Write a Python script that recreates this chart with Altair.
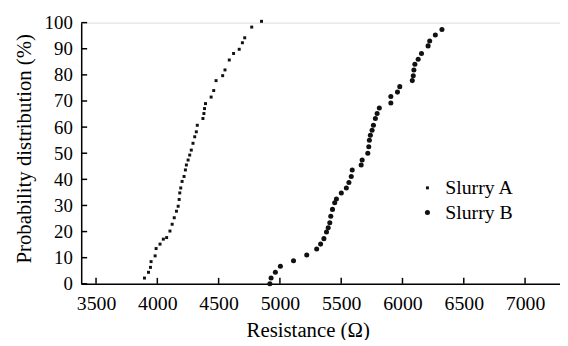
import altair as alt
import pandas as pd

# Slurry A: resistance (ohm) and cumulative probability (%)
a_res = [3895, 3928, 3944, 3949, 3982, 3990, 4022, 4049, 4076, 4103, 4121, 4138,
         4156, 4170, 4178, 4183, 4191, 4202, 4218, 4229, 4237, 4251, 4264, 4277,
         4291, 4305, 4318, 4326, 4372, 4380, 4385, 4393, 4439, 4460, 4479, 4533,
         4552, 4587, 4622, 4668, 4694, 4713, 4770, 4850]
a_prob = [2.2, 4.4, 6.3, 8.5, 10.7, 13.5, 15.2, 17.1, 17.7, 20.2, 22.8, 25.3,
          27.8, 29.7, 32.3, 34.8, 36.7, 39.2, 41.1, 43.6, 45.5, 47.4, 49.3, 51.2,
          53.8, 56.3, 58.2, 60.7, 63.3, 65.2, 67.1, 69.0, 71.5, 74.0, 77.8, 79.7,
          81.9, 85.7, 88.2, 89.8, 92.3, 94.2, 98.3, 100.5]

# Slurry B
b_res = [4918, 4928, 4963, 5004, 5111, 5219, 5300, 5332, 5359, 5380, 5394, 5407,
         5415, 5429, 5447, 5461, 5501, 5542, 5563, 5582, 5590, 5663, 5671, 5717,
         5725, 5730, 5738, 5752, 5763, 5779, 5793, 5811, 5905, 5905, 5959, 5978,
         6080, 6088, 6093, 6101, 6128, 6155, 6209, 6222, 6268, 6322]
b_prob = [0.0, 2.2, 4.4, 6.7, 8.8, 11.0, 13.3, 15.2, 17.3, 19.8, 21.5, 23.4,
          25.9, 28.5, 31.0, 32.5, 34.8, 36.7, 38.8, 41.1, 43.6, 45.5, 47.4, 50.0,
          52.5, 55.0, 56.9, 58.8, 60.7, 63.3, 65.2, 67.3, 69.2, 71.7, 73.4, 75.5,
          77.8, 79.7, 81.9, 84.1, 86.0, 88.2, 91.1, 93.0, 95.3, 97.4]

series_names = ["Slurry A", "Slurry B"]
x_ticks = [3500, 4000, 4500, 5000, 5500, 6000, 6500, 7000]
y_ticks = [0, 10, 20, 30, 40, 50, 60, 70, 80, 90, 100]

df = pd.concat([
    pd.DataFrame({"res": a_res, "prob": a_prob, "series": series_names[0]}),
    pd.DataFrame({"res": b_res, "prob": b_prob, "series": series_names[1]}),
], ignore_index=True)

FONT = "Liberation Serif"
W, H = 484, 264
X0, X1 = 3379, 7285
xscale = alt.Scale(domain=[X0, X1], nice=False, zero=False)
yscale = alt.Scale(domain=[0, 100], nice=False, zero=False)
TICK_PX = 6

xaxis = alt.Axis(
    values=x_ticks, format="d", title="Resistance (Ω)",
    labelFontSize=20, labelPadding=10, titleFontSize=21,
    titlePadding=6, titleX=229)
yaxis = alt.Axis(
    values=y_ticks, format="d", title="Probability distribution (%)",
    labelFontSize=19, labelPadding=9, titleFontSize=21,
    titlePadding=10, titleY=127)

legend = alt.Legend(
    title=None, orient="none", legendX=340, legendY=157,
    labelFont=FONT, labelFontSize=20, labelColor="black",
    labelOffset=8, rowPadding=5, padding=0, symbolStrokeWidth=0,
)

points = alt.Chart(df).mark_point(filled=True, opacity=1, color="#111111").encode(
    x=alt.X("res:Q", scale=xscale, axis=xaxis),
    y=alt.Y("prob:Q", scale=yscale, axis=yaxis),
    shape=alt.Shape("series:N", scale=alt.Scale(domain=series_names, range=["square", "circle"]), legend=legend),
    size=alt.Size("series:N", scale=alt.Scale(domain=series_names, range=[9, 26]), legend=legend),
)

# inward tick marks drawn through the scales
xt = pd.DataFrame({"t": x_ticks, "y0": 0.0, "y1": TICK_PX / H * 100})
yt = pd.DataFrame({"t": y_ticks, "x0": float(X0), "x1": X0 + TICK_PX / W * (X1 - X0)})

xtick_layer = alt.Chart(xt).mark_rule(color="black", strokeWidth=1.5).encode(
    x=alt.X("t:Q", scale=xscale, axis=xaxis), y=alt.Y("y0:Q", scale=yscale, axis=yaxis), y2="y1:Q")
ytick_layer = alt.Chart(yt).mark_rule(color="black", strokeWidth=1.5).encode(
    y=alt.Y("t:Q", scale=yscale, axis=yaxis), x=alt.X("x0:Q", scale=xscale, axis=xaxis), x2="x1:Q")

chart = alt.layer(points, xtick_layer, ytick_layer).properties(
    width=W, height=H,
    autosize="none",
    padding={"left": 74, "top": 13, "right": 0, "bottom": 55},
    background="white",
).configure_view(stroke=None).configure(font=FONT).configure_axis(
    labelFont=FONT, titleFont=FONT, labelColor="black", titleColor="black",
    titleFontWeight="normal", grid=False, ticks=False, domainColor="black",
    domainWidth=1.5, labelFlush=False, labelOverlap=False,
)

chart.save("out.html", embed_options={"renderer": "svg", "actions": False})
